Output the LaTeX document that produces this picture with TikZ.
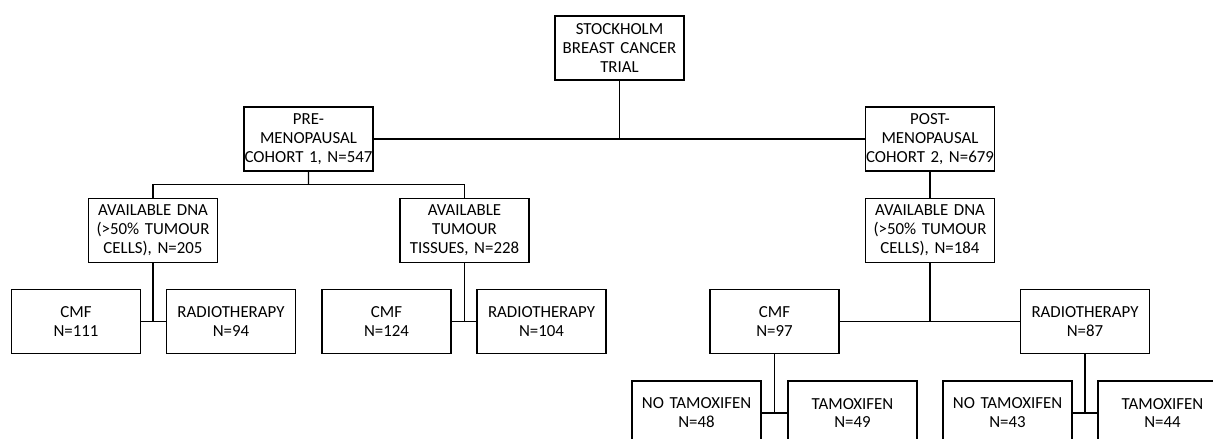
\documentclass[tikz,border=0pt]{standalone}
\usepackage{fontspec}
\setmainfont{Carlito}
\usetikzlibrary{calc}

\begin{document}
\begin{tikzpicture}[line width=0.9pt,
    box/.style={rectangle, draw, minimum width=3.225cm, minimum height=1.6cm, inner sep=0pt, text width=3.225cm, align=center, fill=white, font=\fontsize{12}{13.4}\selectfont}]

    \useasboundingbox (0,0) rectangle (30.325,-10.975);
    \clip (0,0) rectangle (30.325,-10.975);

    \node[box] (1) at (15.4875,-1.2) {STOCKHOLM\\BREAST CANCER\\TRIAL};

    \node[box] (2) at (7.7125,-3.475) {PRE-\\MENOPAUSAL\\COHORT 1, N=547};

    \node[box] (3) at (23.25,-3.475) {POST-\\MENOPAUSAL\\COHORT 2, N=679};

    \draw[] (2) to (3);
    \draw[] (1.south) to (1.south |- 2.east);



    \node[box] (4) at (3.825,-5.7625) {AVAILABLE DNA\\(>50\% TUMOUR\\CELLS), N=205};

    \node[box] (5) at (11.6125,-5.7625) {AVAILABLE\\TUMOUR\\TISSUES, N=228};

    \coordinate (2b) at ($(2.south)!0.5!(2.south |- 4.north)$);

    \draw[] (2.south) to (2b);
    \draw[] (4.north) |- (2b) -| (5.north);

    \node[box] (6) at (23.25,-5.7625) {AVAILABLE DNA\\(>50\% TUMOUR\\CELLS), N=184};

    \draw[] (3) to (6);



    \node[box] (7) at (1.9,-8.0375) {CMF\\N=111};

    \node[box] (8) at (5.775,-8.0375) {RADIOTHERAPY\\N=94};

    \draw[] (7) to (8);
    \draw[] (4.south) to (4.south |- 7.east);

    \node[box] (9) at (9.6625,-8.0375) {CMF\\N=124};

    \node[box] (10) at (13.5375,-8.0375) {RADIOTHERAPY\\N=104};

    \draw[] (9) to (10);
    \draw[] (5.south) to (5.south |- 9.east);

    \node[box] (11) at (19.3625,-8.0375) {CMF\\N=97};

    \node[box] (12) at (27.125,-8.0375) {RADIOTHERAPY\\N=87};

    \draw[] (11) to (12);
    \draw[] (6.south) to (6.south |- 11.east);



    \node[box] (13) at (17.4125,-10.325) {NO TAMOXIFEN\\N=48};

    \node[box] (14) at (21.3125,-10.325) {TAMOXIFEN\\N=49};

    \draw[] (13) to (14);
    \draw[] (11.south) to (11.south |- 13.east);

    \node[box] (15) at (25.1875,-10.325) {NO TAMOXIFEN\\N=43};

    \node[box] (16) at (29.0625,-10.325) {TAMOXIFEN\\N=44};

    \draw[] (15) to (16);
    \draw[] (12.south) to (12.south |- 15.east);

\end{tikzpicture}
\end{document}
